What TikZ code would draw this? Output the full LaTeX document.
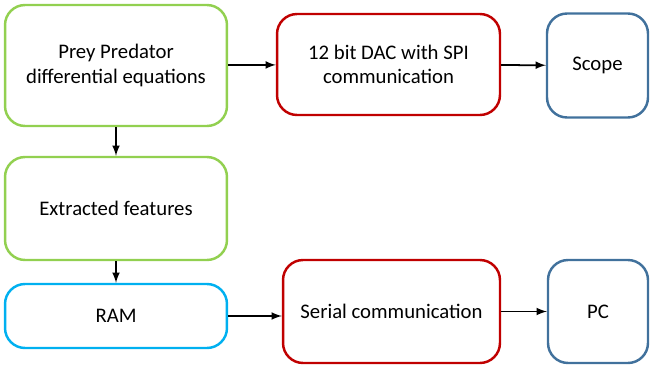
\documentclass[tikz,border=0pt]{standalone}
\usepackage{fontspec}
\setmainfont{Carlito}
\definecolor{boxgreen}{RGB}{146,208,80}
\definecolor{boxred}{RGB}{192,0,0}
\definecolor{boxblue}{RGB}{65,113,156}
\definecolor{boxcyan}{RGB}{0,176,240}
\begin{document}
\begin{tikzpicture}[x=0.02cm,y=-0.02cm,
    blk/.style={draw,line width=1.4pt,rounded corners=0.4cm,align=center,
      font=\fontsize{11.8}{13.8}\selectfont,inner sep=0pt},
    arr/.style={-latex,line width=1pt}]
      \useasboundingbox (0,0) rectangle (650,365);
      \node[blk,boxgreen,text=black,minimum width=4.44cm,minimum height=2.42cm] at (116,65.5) (prey) {Prey Predator\\differential equations};
      \node[blk,boxred,text=black,minimum width=4.46cm,minimum height=2.02cm] at (388.5,64.5) (dac) {12 bit DAC with SPI\\communication};
      \node[blk,boxblue,text=black,minimum width=2.02cm,minimum height=2.08cm] at (597.5,65.5) (scope) {Scope};
      \node[blk,boxgreen,text=black,minimum width=4.44cm,minimum height=2.06cm] at (116,208.5) (feat) {Extracted features};
      \node[blk,boxcyan,text=black,minimum width=4.44cm,minimum height=1.28cm] at (116,316) (ram) {RAM};
      \node[blk,boxred,text=black,minimum width=4.34cm,minimum height=2.06cm] at (391.5,311.5) (serial) {Serial communication};
      \node[blk,boxblue,text=black,minimum width=2.0cm,minimum height=2.06cm] at (598,311.5) (pc) {PC};
      \draw[arr] (prey) -- (dac);
      \draw[arr] (dac) -- (scope);
      \draw[arr] (prey) -- (feat);
      \draw[arr] (feat) -- (ram);
      \draw[arr] (ram.east) -- (ram.east -| serial.west);
      \draw[arr] (serial) -- (pc);
    \end{tikzpicture}
\end{document}
